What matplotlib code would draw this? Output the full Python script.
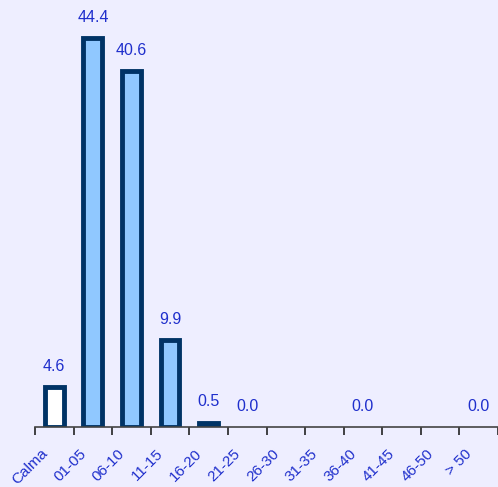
import numpy as np
import matplotlib.pyplot as plt
import matplotlib.transforms as mtransforms

plt.rcParams['font.family'] = ['Liberation Sans', 'DejaVu Sans']

categorias = ['Calma', '01-05', '06-10', '11-15', '16-20', '21-25', '26-30',
              '31-35', '36-40', '41-45', '46-50', '> 50']
valores = [4.6, 44.4, 40.6, 9.9, 0.5, 0.0, 0.0, 0.0, 0.0, 0.0, 0.0, 0.0]
etiquetas = ['4.6', '44.4', '40.6', '9.9', '0.5', '0.0', '', '', '0.0', '', '', '0.0']
rellenos = ['white'] + ['#90C8FF'] * 11

fondo = '#EEEEFF'
azul_txt = '#1F2FCC'
borde = '#003366'

fig = plt.figure(figsize=(4.98, 4.87), dpi=100, facecolor=fondo)
ax = fig.add_axes([35 / 498, 1 - 427 / 487, 463 / 498, 427 / 487], facecolor=fondo)

x = np.arange(len(categorias))
grosor = [3.5 if v > 0 else 0 for v in valores]
ax.bar(x, valores, width=0.49, color=rellenos, edgecolor=borde, linewidth=grosor)

for xi, v, t in zip(x, valores, etiquetas):
    if t:
        ax.text(xi, v + 1.5, t, ha='center', va='bottom', color=azul_txt, fontsize=11.5)

ax.set_xlim(-0.5, -0.5 + 463 / 39)
ax.set_ylim(0, 427 / 8.76)

ax.set_xticks(x)
ax.set_xticklabels(categorias, rotation=45, ha='right', va='top',
                   rotation_mode='anchor', color=azul_txt, fontsize=11)
ax.tick_params(axis='x', which='major', length=0, pad=14)
desplaza = mtransforms.ScaledTranslation(-14 / 100, 0, fig.dpi_scale_trans)
for lbl in ax.get_xticklabels():
    lbl.set_transform(lbl.get_transform() + desplaza)
ax.set_xticks(np.arange(-0.5, len(categorias), 1), minor=True)
ax.tick_params(axis='x', which='minor', length=6, width=1.2, color='#222222', direction='out')

ax.set_yticks([])
for s in ['top', 'right', 'left']:
    ax.spines[s].set_visible(False)
ax.spines['bottom'].set_color('#444444')
ax.spines['bottom'].set_linewidth(1.2)

fig.savefig('out.png', dpi=100, facecolor=fondo)
